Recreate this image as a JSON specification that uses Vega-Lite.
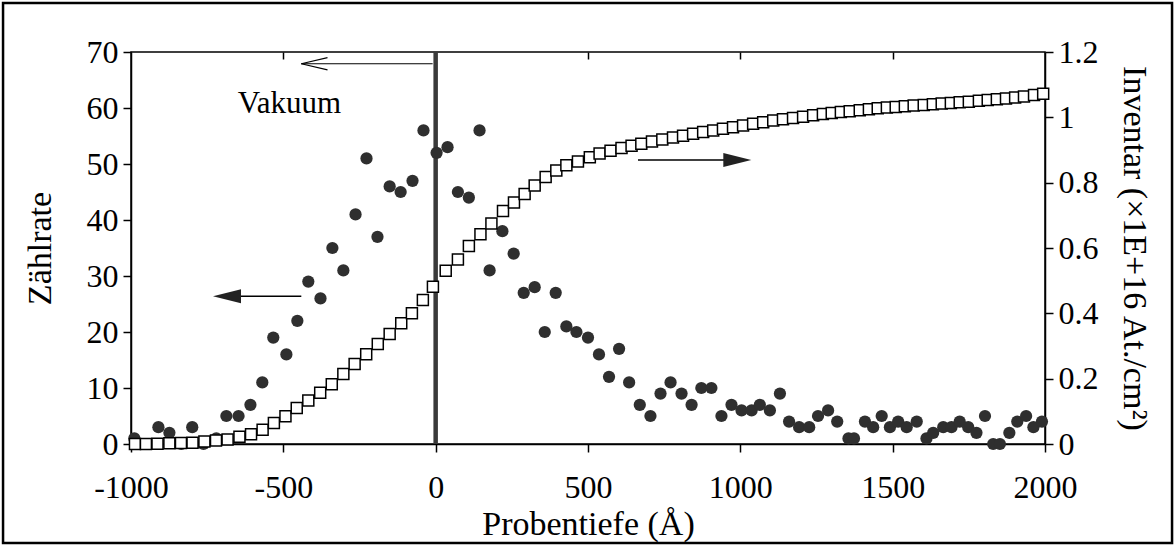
{
  "$schema": "https://vega.github.io/schema/vega-lite/v6.json",
  "width": 914,
  "height": 392,
  "autosize": {"type": "none"},
  "padding": {"left": 131, "top": 52, "right": 131, "bottom": 106},
  "background": "white",
  "config": {
    "font": "Liberation Serif",
    "view": {"stroke": "black", "strokeWidth": 1.5},
    "axis": {
      "labelFont": "Liberation Serif", "titleFont": "Liberation Serif",
      "labelFontSize": 32, "titleFontSize": 34, "titleFontWeight": "normal",
      "labelColor": "black", "titleColor": "black", "domainColor": "black",
      "tickColor": "black", "grid": false, "domainWidth": 1.5, "tickWidth": 1.5
    }
  },
  "datasets": {
    "one": [{}],
    "rate": [
      {"d": -989, "z": 1}, {"d": -910, "z": 3}, {"d": -874, "z": 2}, {"d": -835, "z": 0},
      {"d": -799, "z": 3}, {"d": -762, "z": 0}, {"d": -720, "z": 1}, {"d": -687, "z": 5},
      {"d": -647, "z": 5}, {"d": -608, "z": 7}, {"d": -569, "z": 11}, {"d": -533, "z": 19},
      {"d": -490, "z": 16}, {"d": -454, "z": 22}, {"d": -418, "z": 29}, {"d": -378, "z": 26},
      {"d": -339, "z": 35}, {"d": -303, "z": 31}, {"d": -263, "z": 41}, {"d": -227, "z": 51},
      {"d": -191, "z": 37}, {"d": -151, "z": 46}, {"d": -115, "z": 45}, {"d": -76, "z": 47},
      {"d": -40, "z": 56}, {"d": 3, "z": 52}, {"d": 39, "z": 53}, {"d": 73, "z": 45},
      {"d": 109, "z": 44}, {"d": 144, "z": 56}, {"d": 177, "z": 31}, {"d": 219, "z": 38},
      {"d": 256, "z": 34}, {"d": 289, "z": 27}, {"d": 325, "z": 28}, {"d": 358, "z": 20},
      {"d": 394, "z": 27}, {"d": 429, "z": 21}, {"d": 462, "z": 20}, {"d": 500, "z": 19},
      {"d": 536, "z": 16}, {"d": 569, "z": 12}, {"d": 602, "z": 17}, {"d": 635, "z": 11},
      {"d": 670, "z": 7}, {"d": 705, "z": 5}, {"d": 738, "z": 9}, {"d": 771, "z": 11},
      {"d": 807, "z": 9}, {"d": 840, "z": 7}, {"d": 872, "z": 10}, {"d": 905, "z": 10},
      {"d": 938, "z": 5}, {"d": 971, "z": 7}, {"d": 1004, "z": 6}, {"d": 1037, "z": 6},
      {"d": 1064, "z": 7}, {"d": 1097, "z": 6}, {"d": 1130, "z": 9}, {"d": 1160, "z": 4},
      {"d": 1193, "z": 3}, {"d": 1226, "z": 3}, {"d": 1255, "z": 5}, {"d": 1288, "z": 6},
      {"d": 1318, "z": 4}, {"d": 1355, "z": 1}, {"d": 1373, "z": 1}, {"d": 1409, "z": 4},
      {"d": 1436, "z": 3}, {"d": 1464, "z": 5}, {"d": 1491, "z": 3}, {"d": 1518, "z": 4},
      {"d": 1546, "z": 3}, {"d": 1579, "z": 4}, {"d": 1611, "z": 1}, {"d": 1633, "z": 2},
      {"d": 1666, "z": 3}, {"d": 1693, "z": 3}, {"d": 1720, "z": 4}, {"d": 1748, "z": 3},
      {"d": 1775, "z": 2}, {"d": 1803, "z": 5}, {"d": 1830, "z": 0}, {"d": 1852, "z": 0},
      {"d": 1883, "z": 2}, {"d": 1909, "z": 4}, {"d": 1938, "z": 5}, {"d": 1962, "z": 3},
      {"d": 1990, "z": 4}
    ],
    "inv": [
      {"d": -987, "v": 0.000}, {"d": -951, "v": 0.000}, {"d": -913, "v": 0.001}, {"d": -874, "v": 0.002},
      {"d": -836, "v": 0.003}, {"d": -798, "v": 0.004}, {"d": -759, "v": 0.008}, {"d": -721, "v": 0.011},
      {"d": -683, "v": 0.014}, {"d": -644, "v": 0.022}, {"d": -606, "v": 0.030}, {"d": -568, "v": 0.044},
      {"d": -531, "v": 0.064}, {"d": -493, "v": 0.085}, {"d": -456, "v": 0.110}, {"d": -418, "v": 0.133},
      {"d": -379, "v": 0.157}, {"d": -341, "v": 0.183}, {"d": -303, "v": 0.214}, {"d": -266, "v": 0.245},
      {"d": -228, "v": 0.275}, {"d": -190, "v": 0.306}, {"d": -151, "v": 0.337}, {"d": -113, "v": 0.370},
      {"d": -78, "v": 0.400}, {"d": -42, "v": 0.441}, {"d": -9, "v": 0.481}, {"d": 33, "v": 0.530},
      {"d": 73, "v": 0.565}, {"d": 109, "v": 0.606}, {"d": 147, "v": 0.642}, {"d": 183, "v": 0.675},
      {"d": 221, "v": 0.713}, {"d": 257, "v": 0.739}, {"d": 292, "v": 0.765}, {"d": 325, "v": 0.791},
      {"d": 361, "v": 0.817}, {"d": 396, "v": 0.837}, {"d": 429, "v": 0.853}, {"d": 467, "v": 0.865},
      {"d": 506, "v": 0.878}, {"d": 538, "v": 0.889}, {"d": 574, "v": 0.898}, {"d": 610, "v": 0.906},
      {"d": 643, "v": 0.913}, {"d": 675, "v": 0.919}, {"d": 710, "v": 0.926}, {"d": 744, "v": 0.932},
      {"d": 779, "v": 0.938}, {"d": 812, "v": 0.944}, {"d": 845, "v": 0.950}, {"d": 878, "v": 0.955},
      {"d": 911, "v": 0.960}, {"d": 943, "v": 0.965}, {"d": 976, "v": 0.970}, {"d": 1009, "v": 0.975},
      {"d": 1042, "v": 0.980}, {"d": 1075, "v": 0.985}, {"d": 1108, "v": 0.990}, {"d": 1140, "v": 0.994},
      {"d": 1173, "v": 0.998}, {"d": 1206, "v": 1.002}, {"d": 1239, "v": 1.006}, {"d": 1271, "v": 1.010},
      {"d": 1300, "v": 1.013}, {"d": 1330, "v": 1.016}, {"d": 1359, "v": 1.019}, {"d": 1392, "v": 1.022},
      {"d": 1422, "v": 1.025}, {"d": 1451, "v": 1.028}, {"d": 1481, "v": 1.030}, {"d": 1510, "v": 1.032},
      {"d": 1540, "v": 1.034}, {"d": 1569, "v": 1.036}, {"d": 1602, "v": 1.038}, {"d": 1632, "v": 1.040},
      {"d": 1661, "v": 1.042}, {"d": 1691, "v": 1.044}, {"d": 1720, "v": 1.046}, {"d": 1750, "v": 1.048},
      {"d": 1783, "v": 1.051}, {"d": 1812, "v": 1.053}, {"d": 1842, "v": 1.055}, {"d": 1872, "v": 1.058},
      {"d": 1902, "v": 1.061}, {"d": 1931, "v": 1.064}, {"d": 1964, "v": 1.068}, {"d": 1994, "v": 1.072}
    ]
  },
  "layer": [
    {
      "layer": [
        {
          "data": {"name": "one"},
          "mark": {"type": "rule", "color": "#3a3a3a", "strokeWidth": 4.5},
          "encoding": {
            "x": {"datum": 0, "type": "quantitative", "scale": {"domain": [-1000, 2000], "nice": false, "zero": false}},
            "y": {"datum": 0, "type": "quantitative", "scale": {"domain": [0, 70], "nice": false, "zero": false}},
            "y2": {"datum": 70}
          }
        },
        {
          "data": {"name": "rate"},
          "mark": {"type": "point", "shape": "circle", "filled": true, "color": "#2f2f2f", "opacity": 1, "size": 150},
          "encoding": {
            "x": {"field": "d", "type": "quantitative", "scale": {"domain": [-1000, 2000], "nice": false, "zero": false},
                  "axis": {"title": "Probentiefe (Å)", "values": [-1000, -500, 0, 500, 1000, 1500, 2000], "labelExpr": "'' + datum.value", "tickSize": 8, "labelPadding": 20, "titlePadding": 4, "labelFlush": false}},
            "y": {"field": "z", "type": "quantitative", "scale": {"domain": [0, 70], "nice": false, "zero": false},
                  "axis": {"title": "Zählrate", "values": [0, 10, 20, 30, 40, 50, 60, 70], "tickSize": 8, "labelPadding": 5, "titlePadding": 29}}
          }
        },
        {
          "data": {"name": "one"},
          "mark": {"type": "rule", "color": "black", "strokeWidth": 1.2},
          "encoding": {
            "x": {"datum": -441, "type": "quantitative", "scale": {"domain": [-1000, 2000], "nice": false, "zero": false}},
            "x2": {"datum": -10},
            "y": {"datum": 67.9, "type": "quantitative", "scale": {"domain": [0, 70], "nice": false, "zero": false}}
          }
        },
        {
          "data": {"name": "one"},
          "mark": {"type": "rule", "color": "black", "strokeWidth": 1.2},
          "encoding": {
            "x": {"datum": -441, "type": "quantitative", "scale": {"domain": [-1000, 2000], "nice": false, "zero": false}},
            "x2": {"datum": -355},
            "y": {"datum": 67.9, "type": "quantitative", "scale": {"domain": [0, 70], "nice": false, "zero": false}},
            "y2": {"datum": 69.0}
          }
        },
        {
          "data": {"name": "one"},
          "mark": {"type": "rule", "color": "black", "strokeWidth": 1.2},
          "encoding": {
            "x": {"datum": -441, "type": "quantitative", "scale": {"domain": [-1000, 2000], "nice": false, "zero": false}},
            "x2": {"datum": -355},
            "y": {"datum": 67.9, "type": "quantitative", "scale": {"domain": [0, 70], "nice": false, "zero": false}},
            "y2": {"datum": 66.8}
          }
        },
        {
          "data": {"name": "one"},
          "mark": {"type": "rule", "color": "black", "strokeWidth": 1.5},
          "encoding": {
            "x": {"datum": -650, "type": "quantitative", "scale": {"domain": [-1000, 2000], "nice": false, "zero": false}},
            "x2": {"datum": -441},
            "y": {"datum": 26.4, "type": "quantitative", "scale": {"domain": [0, 70], "nice": false, "zero": false}}
          }
        },
        {
          "data": {"name": "one"},
          "mark": {"type": "point", "shape": "M-1,0L1,-0.5L1,0.5Z", "filled": true, "color": "#222222", "opacity": 1, "size": 784},
          "encoding": {
            "x": {"datum": -685, "type": "quantitative", "scale": {"domain": [-1000, 2000], "nice": false, "zero": false}},
            "y": {"datum": 26.4, "type": "quantitative", "scale": {"domain": [0, 70], "nice": false, "zero": false}}
          }
        },
        {
          "data": {"name": "one"},
          "mark": {"type": "rule", "color": "black", "strokeWidth": 1.5},
          "encoding": {
            "x": {"datum": 664, "type": "quantitative", "scale": {"domain": [-1000, 2000], "nice": false, "zero": false}},
            "x2": {"datum": 960},
            "y": {"datum": 50.7, "type": "quantitative", "scale": {"domain": [0, 70], "nice": false, "zero": false}}
          }
        },
        {
          "data": {"name": "one"},
          "mark": {"type": "point", "shape": "M1,0L-1,-0.5L-1,0.5Z", "filled": true, "color": "#222222", "opacity": 1, "size": 784},
          "encoding": {
            "x": {"datum": 990, "type": "quantitative", "scale": {"domain": [-1000, 2000], "nice": false, "zero": false}},
            "y": {"datum": 50.7, "type": "quantitative", "scale": {"domain": [0, 70], "nice": false, "zero": false}}
          }
        },
        {
          "data": {"name": "one"},
          "mark": {"type": "text", "text": "Vakuum", "fontSize": 31, "font": "Liberation Serif", "color": "black", "align": "center", "baseline": "middle"},
          "encoding": {
            "x": {"datum": -480, "type": "quantitative", "scale": {"domain": [-1000, 2000], "nice": false, "zero": false}},
            "y": {"datum": 60.7, "type": "quantitative", "scale": {"domain": [0, 70], "nice": false, "zero": false}}
          }
        },
        {
          "data": {"name": "one"},
          "mark": {"type": "rect", "fillOpacity": 0, "stroke": "black", "strokeWidth": 2.5, "clip": false},
          "encoding": {
            "x": {"datum": -1420, "type": "quantitative", "scale": {"domain": [-1000, 2000], "nice": false, "zero": false}},
            "x2": {"datum": 2417},
            "y": {"datum": 78.75, "type": "quantitative", "scale": {"domain": [0, 70], "nice": false, "zero": false}},
            "y2": {"datum": -17.7}
          }
        }
      ]
    },
    {
      "data": {"name": "inv"},
      "mark": {"type": "point", "shape": "square", "filled": true, "fill": "white", "stroke": "black", "strokeWidth": 1.5, "opacity": 1, "size": 121},
      "encoding": {
        "x": {"field": "d", "type": "quantitative", "scale": {"domain": [-1000, 2000], "nice": false, "zero": false},
              "axis": {"orient": "top", "title": null, "labels": false, "domain": false, "values": [-500, 500, 1000, 1500], "tickSize": -7}},
        "y": {"field": "v", "type": "quantitative", "scale": {"domain": [0, 1.2], "nice": false, "zero": false},
              "axis": {"orient": "right", "title": "Inventar (×1E+16 At./cm²)", "values": [0, 0.2, 0.4, 0.6, 0.8, 1, 1.2], "format": "~g", "tickSize": 8, "labelPadding": 5, "titlePadding": 18}}
      }
    }
  ],
  "resolve": {"scale": {"y": "independent"}, "axis": {"x": "independent"}}
}
